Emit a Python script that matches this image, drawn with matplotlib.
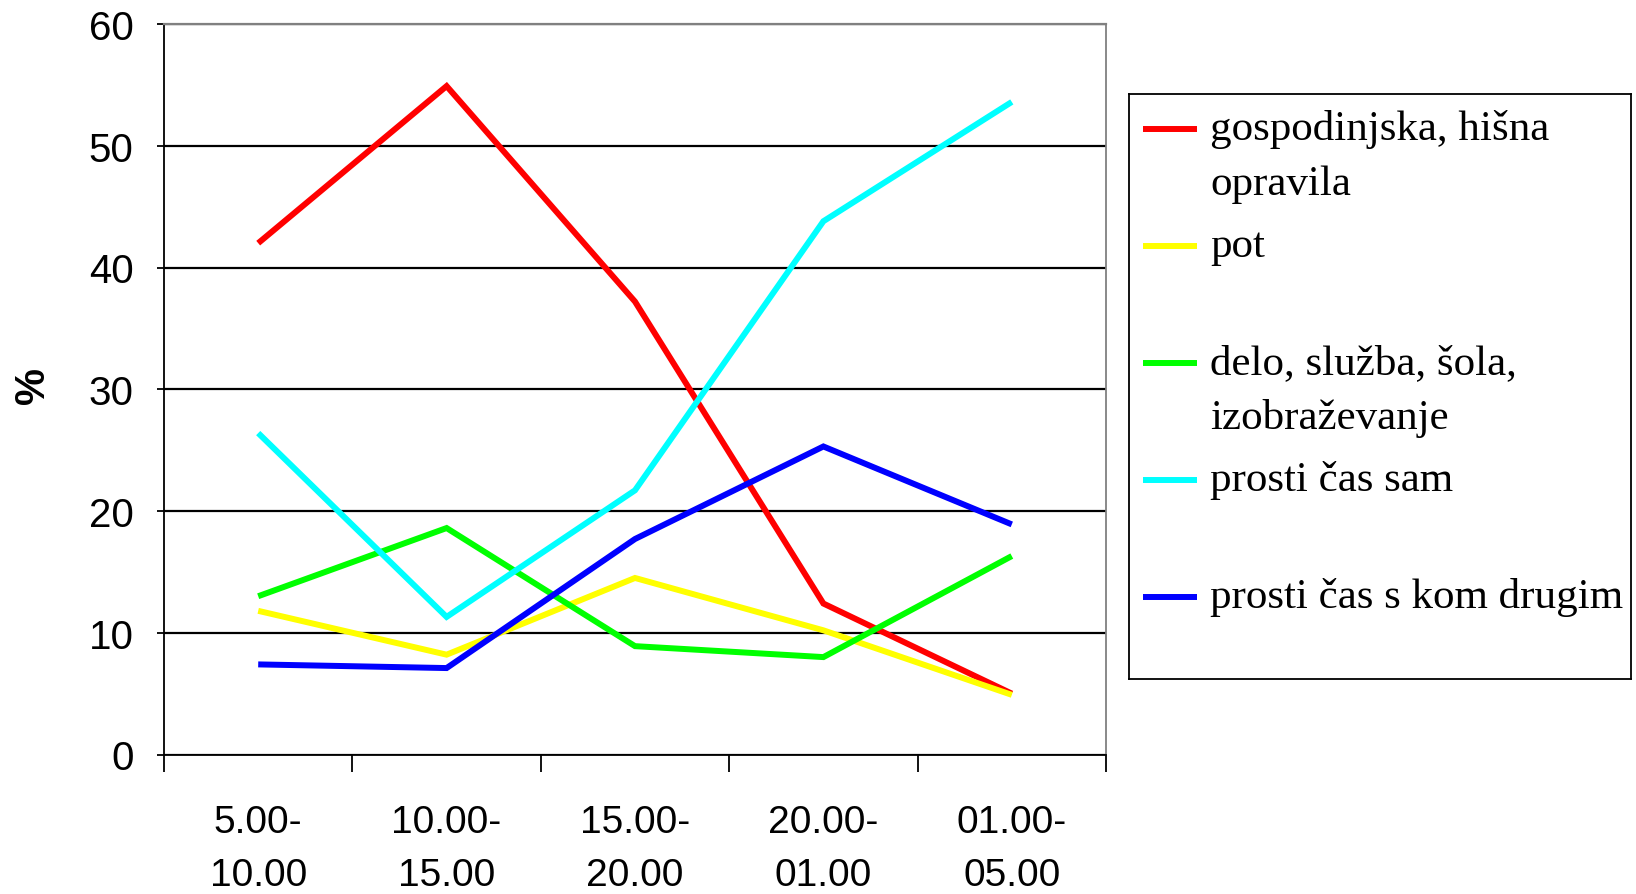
import numpy as np
import matplotlib
matplotlib.use("Agg")
import matplotlib.pyplot as plt

# time slots and percentages
slots = ["5.00-\n10.00", "10.00-\n15.00", "15.00-\n20.00", "20.00-\n01.00", "01.00-\n05.00"]
gospodinjska = [42.0, 54.9, 37.2, 12.4, 5.0]
pot = [11.8, 8.2, 14.5, 10.2, 4.9]
delo = [13.0, 18.6, 8.9, 8.0, 16.3]
prosti_sam = [26.4, 11.3, 21.7, 43.8, 53.6]
prosti_drugi = [7.4, 7.1, 17.7, 25.3, 18.9]

labels = ["gospodinjska, hišna\nopravila", "pot", "delo, služba, šola,\nizobraževanje",
          "prosti čas sam", "prosti čas s kom drugim"]
colors = ["#ff0000", "#ffff00", "#00ff00", "#00ffff", "#0000ff"]
series = [gospodinjska, pot, delo, prosti_sam, prosti_drugi]

fig = plt.figure(figsize=(16.36, 8.95), dpi=100)
ax = fig.add_axes([164/1636, 1-755.5/895, (1106-164)/1636, (755.5-25)/895])

x = np.arange(len(slots))
for s, c in zip(series, colors):
    ax.plot(x, s, color=c, lw=4.3, solid_capstyle='butt', solid_joinstyle='miter')

ax.set_xlim(-0.5, len(slots)-0.5)
ax.set_ylim(0, 60)
ax.set_yticks(np.arange(0, 61, 10))
ax.set_xticks(np.arange(-0.5, len(slots), 1.0))
ax.set_xticklabels([])
ax.set_xticks(x, minor=True)
ax.set_xticklabels(slots, minor=True, fontsize=28, family='Liberation Sans', linespacing=1.58)
ax.tick_params(axis='x', which='major', length=12, width=1.3, direction='out')
ax.tick_params(axis='x', which='minor', length=0, pad=36)
ax.tick_params(axis='y', length=5, width=1.3, pad=17, labelsize=29)
for t in ax.get_yticklabels():
    t.set_family('Liberation Sans')

ax.set_axisbelow(True)
ax.yaxis.grid(True, color='black', lw=1.6)
ax.spines['left'].set_linewidth(1.3)
ax.spines['bottom'].set_linewidth(1.3)
ax.spines['top'].set_color('#808080')
ax.spines['right'].set_color('#808080')
ax.spines['top'].set_linewidth(1.6)
ax.spines['right'].set_linewidth(1.3)

ax.set_ylabel("%", fontsize=30, fontweight='bold', family='Liberation Sans', va='center')
ax.yaxis.set_label_coords(-0.139, 0.506)

# Excel-style legend box with evenly spaced slots
lg = fig.add_axes([1129/1636, 1-680/895, (1631-1129)/1636, (680-95)/895])
lg.set_xlim(0, 502)
lg.set_ylim(585, 0)
lg.set_xticks([])
lg.set_yticks([])
for sp in lg.spines.values():
    sp.set_linewidth(1.3)
slot_h = 117
line_h = 54
for i, (lab, c) in enumerate(zip(labels, colors)):
    yy = 35 + i*slot_h
    lg.plot([14, 68], [yy, yy], color=c, lw=4.3, solid_capstyle='butt')
    nl = lab.count("\n")
    lg.text(81, yy + nl*line_h/2, lab, va='center', ha='left', fontsize=31,
            family='Liberation Serif', linespacing=1.54)

fig.savefig("out.png", dpi=100)
